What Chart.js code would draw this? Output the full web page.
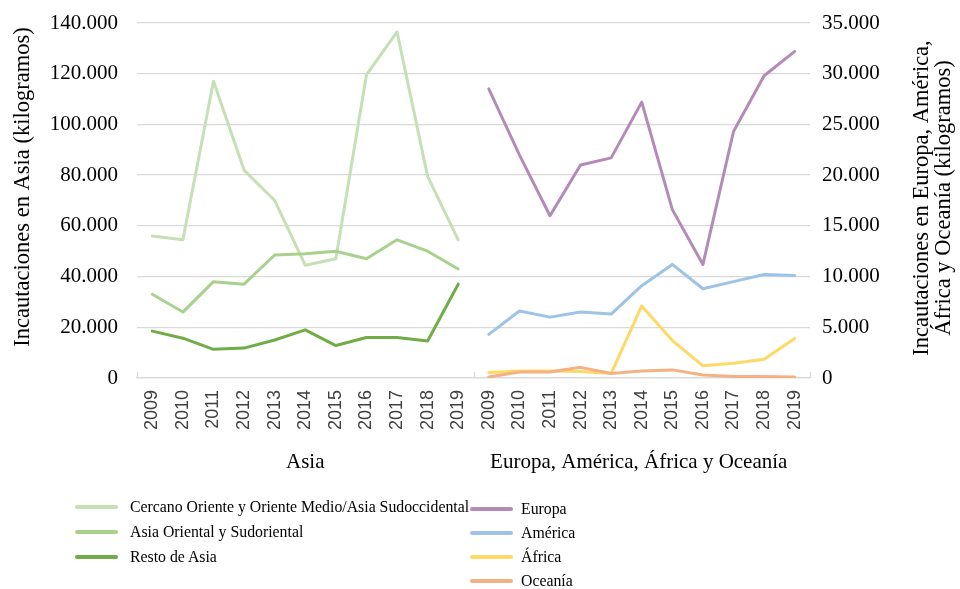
<!DOCTYPE html>
<html>
<head>
<meta charset="utf-8">
<script src="https://cdn.jsdelivr.net/npm/chart.js@4.4.0/dist/chart.umd.min.js"></script>
<style>
  html, body { margin: 0; padding: 0; background: #ffffff; }
  #wrap { position: relative; width: 960px; height: 589px; }
  #legend { position: absolute; left: 0; top: 0; width: 960px; height: 589px; pointer-events: none; }
  .item { position: absolute; font-family: 'Liberation Serif', 'Times New Roman', serif; font-size: 15.8px; color: #000; white-space: nowrap; line-height: 20px; }
  .swatch { position: absolute; height: 4px; border-radius: 2px; }
</style>
</head>
<body>
<div id="wrap">
  <canvas id="c" width="960" height="589"></canvas>
  <div id="legend"></div>
</div>
<script>
// ---------- Data ----------
const years = ['2009','2010','2011','2012','2013','2014','2015','2016','2017','2018','2019'];
const groupLabels = ['Asia', 'Europa, América, África y Oceanía'];

const cercanoOriente = [56000, 54500, 117000, 82000, 70000, 44500, 47000, 119500, 136500, 79500, 54500];
const asiaOriental   = [33000, 26000, 38000, 37000, 48500, 49000, 50000, 47000, 54500, 50000, 43000];
const restoAsia      = [18500, 15700, 11300, 11800, 15000, 19000, 12800, 16000, 16000, 14600, 37000];

const europa  = [28500, 22000, 16000, 21000, 21700, 27200, 16600, 11200, 24300, 29800, 32200];
const america = [4300, 6600, 6000, 6500, 6300, 9100, 11200, 8800, 9500, 10200, 10100];
const africa  = [550, 700, 700, 650, 450, 7100, 3700, 1200, 1450, 1850, 3900];
const oceania = [100, 600, 600, 1050, 450, 700, 800, 300, 150, 150, 100];

const leftTitle = 'Incautaciones en Asia (kilogramos)';
const rightTitle = ['Incautaciones en Europa, América,', 'África y Oceanía (kilogramos)'];

// ---------- Build ----------
const blanks = years.map(() => null);
const labels = years.concat(years);
const asiaSeries = (arr) => arr.concat(blanks);
const restSeries = (arr) => blanks.concat(arr);

const series = [
  { label: 'Cercano Oriente y Oriente Medio/Asia Sudoccidental', data: asiaSeries(cercanoOriente), color: '#c5e0b4', axis: 'y', col: 0 },
  { label: 'Asia Oriental y Sudoriental', data: asiaSeries(asiaOriental), color: '#a9d18e', axis: 'y', col: 0 },
  { label: 'Resto de Asia', data: asiaSeries(restoAsia), color: '#70ad47', axis: 'y', col: 0 },
  { label: 'Europa', data: restSeries(europa), color: '#b48bb8', axis: 'y1', col: 1 },
  { label: 'América', data: restSeries(america), color: '#9dc3e6', axis: 'y1', col: 1 },
  { label: 'África', data: restSeries(africa), color: '#ffd966', axis: 'y1', col: 1 },
  { label: 'Oceanía', data: restSeries(oceania), color: '#f4b183', axis: 'y1', col: 1 }
];

const fmt = (v) => String(v).replace(/\B(?=(\d{3})+(?!\d))/g, '.');
const SERIF = "'Liberation Serif', 'Times New Roman', serif";

const extras = {
  id: 'extras',
  afterDraw(chart) {
    const ctx = chart.ctx;
    const a = chart.chartArea;
    const xs = chart.scales.x;
    const mid = (xs.getPixelForValue(10) + xs.getPixelForValue(11)) / 2;
    ctx.save();
    // group tick marks
    ctx.strokeStyle = '#d9d9d9';
    ctx.lineWidth = 1.3;
    [a.left, mid, a.right].forEach(x => {
      ctx.beginPath();
      ctx.moveTo(Math.round(x) + 0.5, a.bottom - 6);
      ctx.lineTo(Math.round(x) + 0.5, a.bottom);
      ctx.stroke();
    });
    // group labels
    ctx.fillStyle = '#000';
    ctx.font = '21px ' + SERIF;
    ctx.textAlign = 'center';
    ctx.textBaseline = 'middle';
    ctx.fillText(groupLabels[0], (a.left + mid) / 2, 462);
    ctx.fillText(groupLabels[1], (mid + a.right) / 2 - 3, 462);
    // axis titles
    ctx.font = '22.5px ' + SERIF;
    const rot = (x, y, txt) => {
      ctx.save();
      ctx.translate(x, y);
      ctx.rotate(-Math.PI / 2);
      ctx.fillText(txt, 0, 0);
      ctx.restore();
    };
    rot(23, 187, leftTitle);
    rot(922, 198, rightTitle[0]);
    rot(944, 198, rightTitle[1]);
    ctx.restore();
  }
};

const chart = new Chart(document.getElementById('c'), {
  type: 'line',
  data: {
    labels: labels,
    datasets: series.map((s, i) => ({
      label: s.label,
      data: s.data,
      borderColor: s.color,
      backgroundColor: s.color,
      borderWidth: 3,
      pointRadius: 0,
      tension: 0,
      spanGaps: false,
      yAxisID: s.axis,
      order: series.length - i,
      borderCapStyle: 'round',
      borderJoinStyle: 'round'
    }))
  },
  options: {
    responsive: false,
    animation: false,
    layout: { padding: { top: 23, left: 0, right: 0, bottom: 141 } },
    plugins: { legend: { display: false }, tooltip: { enabled: false } },
    scales: {
      x: {
        offset: true,
        grid: { display: false, drawTicks: false },
        border: { display: true, color: '#d9d9d9', width: 1.3 },
        ticks: {
          autoSkip: false, minRotation: 90, maxRotation: 90, padding: 12,
          color: '#404040', font: { family: "'Liberation Sans', Arial, sans-serif", size: 18 }
        },
        afterFit(s) { s.height = 70; s.paddingLeft = 0; s.paddingRight = 0; }
      },
      y: {
        position: 'left', min: 0, max: 140000,
        grid: { color: '#d9d9d9', lineWidth: 1.3, drawTicks: false },
        border: { display: false },
        ticks: {
          stepSize: 20000, padding: 19, color: '#000',
          font: { family: SERIF, size: 21 },
          callback: (v) => fmt(v)
        },
        afterFit(s) { s.width = 137; s.paddingTop = 0; s.paddingBottom = 0; }
      },
      y1: {
        position: 'right', min: 0, max: 35000,
        grid: { display: false, drawTicks: false },
        border: { display: false },
        ticks: {
          stepSize: 5000, padding: 12, color: '#000',
          font: { family: SERIF, size: 21 },
          callback: (v) => fmt(v)
        },
        afterFit(s) { s.width = 150; s.paddingTop = 0; s.paddingBottom = 0; }
      }
    }
  },
  plugins: [extras]
});

// ---------- HTML legend ----------
const legend = document.getElementById('legend');
const colPos = [
  { sx: 75, tx: 130, y0: 507, dy: 25 },
  { sx: 470, tx: 521, y0: 509, dy: 24 }
];
const counters = [0, 0];
series.forEach(s => {
  const c = colPos[s.col];
  const y = c.y0 + counters[s.col] * c.dy;
  counters[s.col]++;
  const sw = document.createElement('div');
  sw.className = 'swatch';
  sw.style.left = c.sx + 'px';
  sw.style.width = '43px';
  sw.style.top = (y - 2) + 'px';
  sw.style.background = s.color;
  legend.appendChild(sw);
  const t = document.createElement('div');
  t.className = 'item';
  t.style.left = c.tx + 'px';
  t.style.top = (y - 10) + 'px';
  t.textContent = s.label;
  legend.appendChild(t);
});
</script>
</body>
</html>
